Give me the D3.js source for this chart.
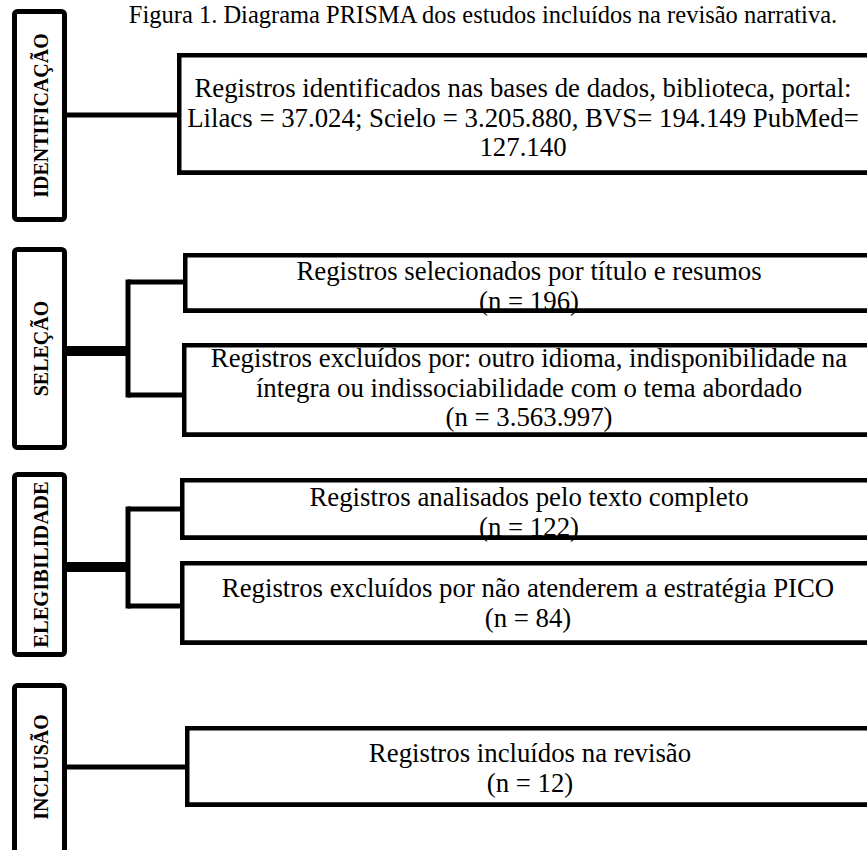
<!DOCTYPE html>
<html>
<head>
<meta charset="utf-8">
<script src="https://cdn.jsdelivr.net/npm/d3@7"></script>
<style>
  html, body { margin: 0; padding: 0; background: #fff; overflow: hidden; }
  svg { display: block; }
</style>
</head>
<body>
<svg id="chart" width="867" height="850"></svg>
<script>
// ---- data ----
const title = "Figura 1. Diagrama PRISMA dos estudos incluídos na revisão narrativa.";
const stages = ["IDENTIFICAÇÃO", "SELEÇÃO", "ELEGIBILIDADE", "INCLUSÃO"];
const boxStage = [0, 1, 1, 2, 2, 3];
const boxLines = [
  ["Registros identificados nas bases de dados, biblioteca, portal:",
   "Lilacs = 37.024; Scielo = 3.205.880, BVS= 194.149 PubMed=",
   "127.140"],
  ["Registros selecionados por título e resumos", "(n = 196)"],
  ["Registros excluídos por: outro idioma, indisponibilidade na",
   "íntegra ou indissociabilidade com o tema abordado",
   "(n = 3.563.997)"],
  ["Registros analisados pelo texto completo", "(n = 122)"],
  ["Registros excluídos por não atenderem a estratégia PICO", "(n = 84)"],
  ["Registros incluídos na revisão", "(n = 12)"]
];

// ---- layout (positions / styles) ----
const stageRects = [
  {y0: 9, y1: 222}, {y0: 247, y1: 450}, {y0: 472, y1: 657}, {y0: 683, y1: 858}
];
const boxRects = [
  {x0: 177, y0: 53, y1: 175, base: 97, link: 115, cx: 523},
  {x0: 183, y0: 253, y1: 313, base: 280, link: 282, cx: 529},
  {x0: 182, y0: 343, y1: 437, base: 367, link: 395, cx: 529},
  {x0: 180, y0: 478, y1: 540, base: 506, link: 509, cx: 529},
  {x0: 180, y0: 561, y1: 645, base: 597, link: 606, cx: 528},
  {x0: 185, y0: 726, y1: 807, base: 762, link: 767, cx: 530}
];
const trunkY = {1: 351, 2: 567};
const stageX0 = 12, stageX1 = 67, trunkX = 128, rightEdge = 900;
const lineH = 29.5;
const serif = "'Liberation Serif', 'Times New Roman', serif";

const svg = d3.select("#chart");
svg.append("rect").attr("width", 867).attr("height", 850).attr("fill", "#fff");

// title
svg.append("text")
  .attr("x", 483).attr("y", 23)
  .attr("text-anchor", "middle")
  .attr("font-family", serif).attr("font-size", 24.5)
  .attr("fill", "#000")
  .text(title);

// stage boxes
const sw = 5;
const sg = svg.append("g");
stages.forEach((s, i) => {
  const r = stageRects[i];
  sg.append("rect")
    .attr("x", stageX0 + sw / 2).attr("y", r.y0 + sw / 2)
    .attr("width", stageX1 - stageX0 - sw).attr("height", r.y1 - r.y0 - sw)
    .attr("rx", 3).attr("fill", "#fff").attr("stroke", "#000").attr("stroke-width", sw);
  const cx = (stageX0 + stageX1) / 2 + 1, cy = (r.y0 + Math.min(r.y1, 851)) / 2;
  sg.append("text")
    .attr("transform", `translate(${cx},${cy}) rotate(-90)`)
    .attr("text-anchor", "middle").attr("dominant-baseline", "central")
    .attr("font-family", serif).attr("font-weight", "bold")
    .attr("font-size", s === "ELEGIBILIDADE" ? 20.5 : 20)
    .attr("fill", "#000")
    .text(s);
});

// content boxes
const bg = svg.append("g");
boxLines.forEach((lines, i) => {
  const r = boxRects[i];
  bg.append("rect")
    .attr("x", r.x0 + 2.25).attr("y", r.y0 + 2.25)
    .attr("width", rightEdge - r.x0).attr("height", r.y1 - r.y0 - 4.5)
    .attr("fill", "#fff").attr("stroke", "#000").attr("stroke-width", 4.5);
});
boxLines.forEach((lines, i) => {
  const r = boxRects[i];
  const t = bg.append("text")
    .attr("font-family", serif).attr("font-size", 26.8)
    .attr("text-anchor", "middle").attr("fill", "#000");
  lines.forEach((ln, j) => {
    t.append("tspan").attr("x", r.cx).attr("y", r.base + j * lineH).text(ln);
  });
});
// bottom borders drawn over text (reference shows the border covering clipped last lines)
boxLines.forEach((lines, i) => {
  const r = boxRects[i];
  bg.append("line")
    .attr("x1", r.x0).attr("x2", rightEdge)
    .attr("y1", r.y1 - 2.25).attr("y2", r.y1 - 2.25)
    .attr("stroke", "#000").attr("stroke-width", 4.5);
});

// connectors
const cg = svg.append("g").attr("stroke", "#000").attr("fill", "none").attr("stroke-linecap", "butt");
stages.forEach((s, i) => {
  const kids = boxStage.map((st, k) => st === i ? k : -1).filter(k => k >= 0);
  if (kids.length === 1) {
    const r = boxRects[kids[0]];
    cg.append("line").attr("x1", stageX1).attr("x2", r.x0).attr("y1", r.link).attr("y2", r.link).attr("stroke-width", 5);
  } else {
    const ys = kids.map(k => boxRects[k].link);
    const mid = trunkY[i];
    cg.append("line").attr("x1", stageX1).attr("x2", trunkX + 2).attr("y1", mid).attr("y2", mid).attr("stroke-width", 10);
    cg.append("line").attr("x1", trunkX).attr("x2", trunkX).attr("y1", ys[0] - 2.5).attr("y2", ys[1] + 2.5).attr("stroke-width", 5);
    kids.forEach((k, j) => {
      cg.append("line").attr("x1", trunkX).attr("x2", boxRects[k].x0).attr("y1", ys[j]).attr("y2", ys[j]).attr("stroke-width", 5);
    });
  }
});
</script>
</body>
</html>
